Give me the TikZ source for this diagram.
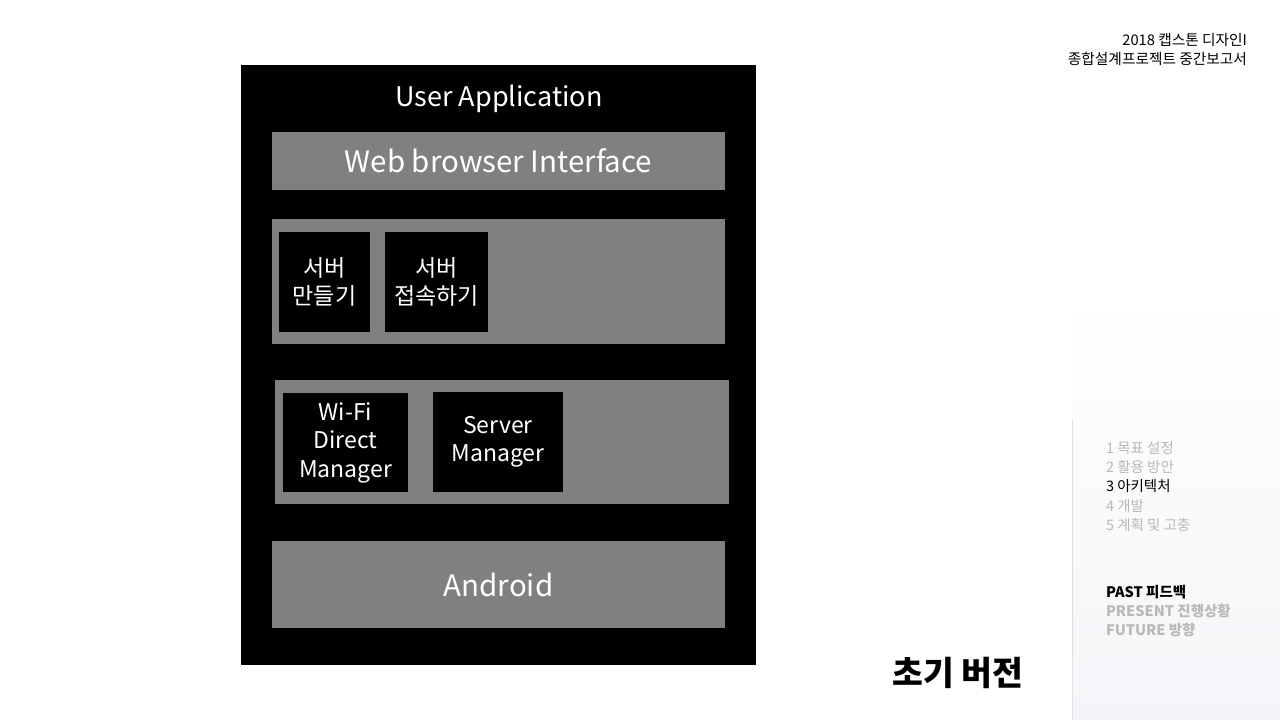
\documentclass[tikz,border=0pt]{standalone}
\usepackage{fontspec}
\setmainfont{Noto Sans CJK KR}
\usepackage{tikz}
\usetikzlibrary{calc,positioning}

\definecolor{layergray}{RGB}{128,128,128}
\definecolor{menugray}{RGB}{185,185,185}
\definecolor{panelgray}{RGB}{244,245,248}

\begin{document}
\begin{tikzpicture}[
  x=1pt, y=-1pt,
  every node/.style={inner sep=0pt, outer sep=0pt}
]

  \tikzstyle{outerbox}=[draw=none,rectangle,fill=black,minimum width=515pt,minimum height=600pt]
  \tikzstyle{layerbox}=[draw=none,rectangle,fill=layergray,text=white,font=\fontsize{29.5}{34}\selectfont]
  \tikzstyle{modbox}=[draw=none,rectangle,fill=black,text=white,align=center,font=\fontsize{23}{28.5}\selectfont]
  \tikzstyle{menuitem}=[anchor=west,text=menugray,font=\fontsize{14.5}{16}\selectfont]
  \tikzstyle{menucur}=[anchor=west,text=black,font=\fontsize{14.5}{16}\selectfont]
  \tikzstyle{headtext}=[anchor=east,font=\fontsize{14.7}{18}\selectfont]

  \useasboundingbox[fill=white] (0,0) rectangle (1280,720);

  % side panel
  \shade[top color=white, bottom color=panelgray] (1072,290) rectangle (1280,720);
  \draw[gray!25, line width=1pt] (1072,420) -- (1072,720);

  % nodes
  \node[outerbox] (app) at (498.5,365) {};
  \node[text=white,font=\fontsize{27}{30}\selectfont] (apptitle) at (499,98.5) {User Application};

  \node[layerbox,minimum width=453pt,minimum height=58pt] (webui) at (498.5,161) {Web browser Interface};

  \node[layerbox,minimum width=453pt,minimum height=125pt] (uilayer) at (498.5,281.5) {};
  \node[modbox,minimum width=91pt,minimum height=100pt] (mkserver) at (324.5,282) {서버\\만들기};
  \node[modbox,minimum width=103pt,minimum height=100pt] (connserver) at (436.5,282) {서버\\접속하기};

  \node[layerbox,minimum width=454pt,minimum height=124pt] (mgrlayer) at (502,442) {};
  \node[modbox,minimum width=125pt,minimum height=99pt] (wifimgr) at (345.5,442.5) {Wi-Fi\\Direct\\Manager};
  \node[modbox,minimum width=130pt,minimum height=100pt] (srvmgr) at (498,442) {Server\\Manager};

  \node[layerbox,minimum width=453pt,minimum height=87pt] (android) at (498.5,584.5) {Android};

  \node[font=\bfseries\fontsize{33.5}{36}\selectfont] (version) at (958,673) {초기 버전};

  % header
  \node[headtext] (head1) at (1247,40) {2018 캡스톤 디자인I};
  \node[headtext] (head2) at (1247,59) {종합설계프로젝트 중간보고서};

  % menu
  \node[menuitem] (m1) at (1106,448) {1 목표 설정};
  \node[menuitem] (m2) at (1106,467) {2 활용 방안};
  \node[menucur]  (m3) at (1106,486) {3 아키텍처};
  \node[menuitem] (m4) at (1106,506) {4 개발};
  \node[menuitem] (m5) at (1106,525) {5 계획 및 고충};

  \node[menucur,font=\bfseries\fontsize{14.5}{16}\selectfont] (past) at (1106,592) {PAST 피드백};
  \node[menuitem,font=\bfseries\fontsize{14.5}{16}\selectfont] (present) at (1106,611) {PRESENT 진행상황};
  \node[menuitem,font=\bfseries\fontsize{14.5}{16}\selectfont] (future) at (1106,630) {FUTURE 방향};

\end{tikzpicture}
\end{document}
